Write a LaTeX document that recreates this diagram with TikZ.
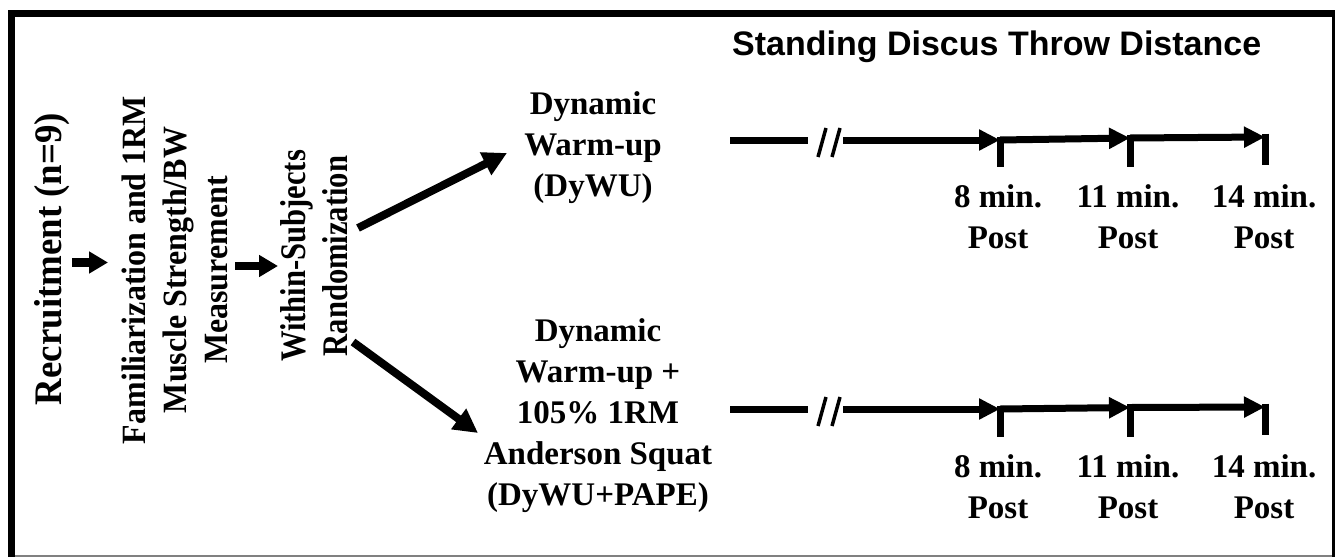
\documentclass[tikz,border=0pt]{standalone}
\usepackage{fontspec}
\setmainfont{Liberation Serif}
\newfontfamily\titlefont{Liberation Sans}
\newfontfamily\recfont[FakeStretch=0.945]{Liberation Serif}
\newfontfamily\famfont[FakeStretch=0.94]{Liberation Serif}
\newfontfamily\wsrfont[FakeStretch=0.85]{Liberation Serif}
\usetikzlibrary{arrows.meta}
\begin{document}
\begin{tikzpicture}[x=1pt,y=1pt,
  txt/.style={font=\bfseries\fontsize{33}{41}\selectfont, align=center, inner sep=0pt},
  bigarrow/.style={line width=8pt, -{Triangle[length=24pt,width=24pt]}},
  smallarrow/.style={line width=8.5pt, -{Triangle[length=19pt,width=21pt]}},
  tl/.style={line width=7pt},
  tlarrow/.style={line width=7pt, -{Triangle[length=21pt,width=20pt]}},
  tick/.style={line width=7pt},
  slash/.style={line width=3.5pt},
]
\useasboundingbox (0,0) rectangle (1335,-557);
% frame
\fill (8,-10) rectangle (1335,-17);
\fill (8,-10) rectangle (15,-557);
\draw[line width=3pt] (1333.5,-10) -- (1333.5,-557);
\draw[line width=2pt, gray] (15,-556) -- (1332,-556);

% title
\node[font=\titlefont\bfseries\fontsize{34}{40}\selectfont, anchor=base west, inner sep=0pt] (title) at (732,-55) {Standing Discus Throw Distance};

% left column texts
\node[txt, font=\recfont\bfseries\fontsize{39}{44}\selectfont, rotate=90, anchor=base] (rec) at (61,-259) {Recruitment (n=9)};
\node[txt, font=\famfont\bfseries\fontsize{34}{41}\selectfont, rotate=90] (fam) at (175,-270) {Familiarization and 1RM\\Muscle Strength/BW\\Measurement};
\node[txt, font=\wsrfont\bfseries\fontsize{36}{42}\selectfont, rotate=90] (wsr) at (314,-256) {Within-Subjects\\Randomization};

% conditions
\node[txt] (dywu) at (593,-148) {Dynamic\\Warm-up\\(DyWU)};
\node[txt] (pape) at (598,-416) {Dynamic\\Warm-up +\\105\% 1RM\\Anderson Squat\\(DyWU+PAPE)};

% small arrows
\coordinate (a1s) at (72,-262.5);
\coordinate (a1e) at (108,-262.5);
\coordinate (a2s) at (235,-266);
\coordinate (a2e) at (278,-266);
\draw[smallarrow] (a1s) -- (a1e);
\draw[smallarrow] (a2s) -- (a2e);

% diagonal arrows
\coordinate (d1s) at (358,-228);
\coordinate (d1e) at (507,-153);
\coordinate (d2s) at (353,-342);
\coordinate (d2e) at (478,-433);
\draw[bigarrow] (d1s) -- (d1e);
\draw[bigarrow] (d2s) -- (d2e);

% upper timeline
\coordinate (ua) at (730,-140);
\coordinate (ub) at (808,-140);
\coordinate (uc) at (843,-140);
\coordinate (ut1) at (1000,-140);
\coordinate (ut2) at (1130,-138);
\coordinate (ut3) at (1265,-137);
\coordinate (ut1b) at (1000,-167);
\coordinate (ut2b) at (1130,-167);
\coordinate (ut3b) at (1265,-165);
\draw[tl] (ua) -- (ub);
\draw[slash] (826,-128) -- (818,-157);
\draw[slash] (840,-128) -- (832,-157);
\draw[tlarrow] (uc) -- (ut1);
\draw[tlarrow] (ut1) -- (ut2);
\draw[tlarrow] (ut2) -- (ut3);
\draw[tick] (ut1) ++(0,3.5) -- (ut1b);
\draw[tick] (ut2) ++(0,3.5) -- (ut2b);
\draw[tick] (ut3) ++(0,3.5) -- (ut3b);
\node[txt] (ul1) at (998,-217) {8 min.\\Post};
\node[txt] (ul2) at (1128,-217) {11 min.\\Post};
\node[txt] (ul3) at (1264,-217) {14 min.\\Post};

% lower timeline
\coordinate (la) at (730,-409);
\coordinate (lb) at (808,-409);
\coordinate (lc) at (843,-409);
\coordinate (lt1) at (1000,-409);
\coordinate (lt2) at (1130,-407.5);
\coordinate (lt3) at (1265,-407);
\coordinate (lt1b) at (1000,-437);
\coordinate (lt2b) at (1130,-437);
\coordinate (lt3b) at (1265,-435);
\draw[tl] (la) -- (lb);
\draw[slash] (826,-397) -- (818,-426);
\draw[slash] (840,-397) -- (832,-426);
\draw[tlarrow] (lc) -- (lt1);
\draw[tlarrow] (lt1) -- (lt2);
\draw[tlarrow] (lt2) -- (lt3);
\draw[tick] (lt1) ++(0,3.5) -- (lt1b);
\draw[tick] (lt2) ++(0,3.5) -- (lt2b);
\draw[tick] (lt3) ++(0,3.5) -- (lt3b);
\node[txt] (ll1) at (998,-487) {8 min.\\Post};
\node[txt] (ll2) at (1128,-487) {11 min.\\Post};
\node[txt] (ll3) at (1264,-487) {14 min.\\Post};
\end{tikzpicture}
\end{document}
